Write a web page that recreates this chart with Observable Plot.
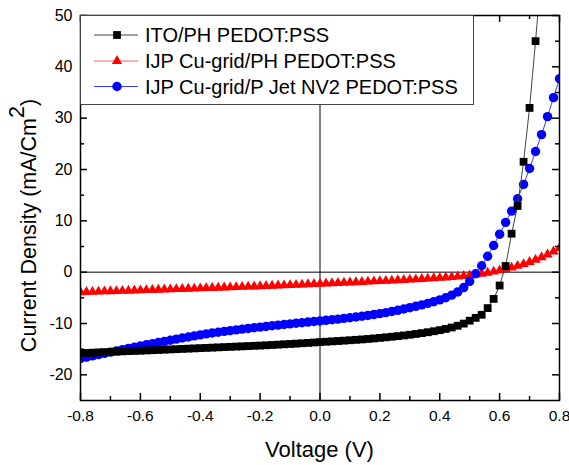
<!DOCTYPE html>
<html>
<head>
<meta charset="utf-8">
<script src="https://cdn.jsdelivr.net/npm/d3@7"></script>
<script src="https://cdn.jsdelivr.net/npm/@observablehq/plot@0.6"></script>
<style>
  html, body { margin: 0; padding: 0; background: #fff; }
  #chart { width: 569px; height: 465px; }
</style>
</head>
<body>
<div id="chart"></div>
<script>
// ---- Data ----
const seriesNames = ["ITO/PH PEDOT:PSS", "IJP Cu-grid/PH PEDOT:PSS", "IJP Cu-grid/P Jet NV2 PEDOT:PSS"];
const seriesColors = ["#000000", "#ff0000", "#0000ff"];
const lineColors = ["#444444", "#ff6060", "#3a3aff"];

const voltage = [
  -0.80,-0.78,-0.76,-0.74,-0.72,-0.70,-0.68,-0.66,-0.64,-0.62,
  -0.60,-0.58,-0.56,-0.54,-0.52,-0.50,-0.48,-0.46,-0.44,-0.42,
  -0.40,-0.38,-0.36,-0.34,-0.32,-0.30,-0.28,-0.26,-0.24,-0.22,
  -0.20,-0.18,-0.16,-0.14,-0.12,-0.10,-0.08,-0.06,-0.04,-0.02,
   0.00,
   0.02, 0.04, 0.06, 0.08, 0.10, 0.12, 0.14, 0.16, 0.18, 0.20,
   0.22, 0.24, 0.26, 0.28, 0.30, 0.32, 0.34, 0.36, 0.38, 0.40,
   0.42, 0.44, 0.46, 0.48, 0.50, 0.52, 0.54, 0.56, 0.58, 0.60,
   0.62, 0.64, 0.66, 0.68, 0.70, 0.72, 0.74, 0.76, 0.78, 0.80
];

// ITO/PH PEDOT:PSS (black squares), -0.80 .. 0.74 V
const itoJ = [
  -15.80,-15.74,-15.69,-15.63,-15.58,-15.53,-15.48,-15.43,-15.38,-15.34,
  -15.30,-15.25,-15.20,-15.15,-15.10,-15.05,-15.00,-14.95,-14.90,-14.85,
  -14.80,-14.75,-14.70,-14.65,-14.60,-14.55,-14.50,-14.45,-14.40,-14.35,
  -14.30,-14.24,-14.18,-14.12,-14.05,-13.99,-13.92,-13.85,-13.78,-13.70,
  -13.62,
  -13.55,-13.48,-13.41,-13.34,-13.26,-13.18,-13.10,-13.01,-12.91,-12.80,
  -12.69,-12.58,-12.46,-12.33,-12.19,-12.04,-11.88,-11.70,-11.51,-11.30,
  -11.06,-10.78,-10.44,-10.02, -9.45, -8.90, -8.30, -7.00, -5.20, -2.60,
    1.20,  7.50, 12.90, 21.50, 32.00, 45.00, 59.00
];

// IJP Cu-grid/PH PEDOT:PSS (red triangles)
const cuPhJ = [
  -3.90,-3.86,-3.83,-3.79,-3.75,-3.72,-3.68,-3.64,-3.61,-3.57,
  -3.53,-3.50,-3.46,-3.42,-3.38,-3.35,-3.31,-3.27,-3.23,-3.19,
  -3.15,-3.11,-3.07,-3.03,-2.99,-2.95,-2.91,-2.87,-2.82,-2.78,
  -2.74,-2.69,-2.65,-2.60,-2.56,-2.51,-2.46,-2.41,-2.36,-2.31,
  -2.26,
  -2.21,-2.16,-2.11,-2.06,-2.01,-1.96,-1.91,-1.85,-1.80,-1.75,
  -1.70,-1.64,-1.58,-1.52,-1.46,-1.40,-1.33,-1.26,-1.19,-1.11,
  -1.03,-0.95,-0.87,-0.75,-0.62,-0.47,-0.30,-0.12, 0.10, 0.36,
   0.62, 0.90, 1.22, 1.58, 1.98, 2.42, 2.90, 3.44, 4.04, 4.70
];

// IJP Cu-grid/P Jet NV2 PEDOT:PSS (blue circles)
const cuJetJ = [
  -16.80,-16.55,-16.30,-16.06,-15.82,-15.58,-15.34,-15.10,-14.86,-14.62,
  -14.38,-14.15,-13.92,-13.70,-13.48,-13.26,-13.04,-12.83,-12.62,-12.41,
  -12.21,-12.03,-11.86,-11.70,-11.54,-11.39,-11.24,-11.10,-10.96,-10.83,
  -10.70,-10.57,-10.44,-10.32,-10.20,-10.08, -9.96, -9.84, -9.72, -9.61,
   -9.50,
   -9.38, -9.26, -9.14, -9.01, -8.88, -8.74, -8.59, -8.43, -8.26, -8.08,
   -7.88, -7.66, -7.43, -7.18, -6.92, -6.65, -6.37, -6.07, -5.75, -5.40,
   -4.98, -4.48, -3.85, -3.00, -1.80, -0.30,  1.25,  3.10,  5.20,  7.40,
    9.70, 11.90, 14.30, 17.10, 20.20, 23.50, 26.80, 30.30, 34.00, 37.70
];

const xDomain = [-0.8, 0.8];
const yDomain = [-25, 50];
const xTicks = [-0.8, -0.6, -0.4, -0.2, 0.0, 0.2, 0.4, 0.6, 0.8];
const xMinorTicks = [-0.7, -0.5, -0.3, -0.1, 0.1, 0.3, 0.5, 0.7];
const yTicks = [-20, -10, 0, 10, 20, 30, 40, 50];
const yMinorTicks = [-15, -5, 5, 15, 25, 35, 45];

const xLabel = "Voltage (V)";
const yLabelMain = "Current Density (mA/Cm";
const yLabelSup = "2";
const yLabelEnd = ")";

// ---- Build tables ----
const itoRows = itoJ.map((j, i) => ({v: voltage[i], j}));
const cuPhRows = cuPhJ.map((j, i) => ({v: voltage[i], j}));
const cuJetRows = cuJetJ.map((j, i) => ({v: voltage[i], j}));

const FONT = '"Liberation Sans", Arial, Helvetica, sans-serif';
const symbols = ["square", "triangle", "circle"];
const radii = [4.4, 3.8, 4.7];

const W = 569, H = 465, ML = 80, MR = 10, MT = 15, MB = 65;
const plotW = W - ML - MR, plotH = H - MT - MB;
// tick lengths in pixels, converted to data units
const MAJOR = 7, MINOR = 4;
const xPerPx = (xDomain[1] - xDomain[0]) / plotW;
const yPerPx = (yDomain[1] - yDomain[0]) / plotH;
const tk = {stroke: "#000", strokeWidth: 1.5};

function xTickRules(ticks, len) {
  return [
    Plot.ruleX(ticks, {x: d => d, y1: yDomain[0], y2: yDomain[0] + len * yPerPx, ...tk}),
    Plot.ruleX(ticks, {x: d => d, y1: yDomain[1], y2: yDomain[1] - len * yPerPx, ...tk})
  ];
}
function yTickRules(ticks, len) {
  return [
    Plot.ruleY(ticks, {y: d => d, x1: xDomain[0], x2: xDomain[0] + len * xPerPx, ...tk}),
    Plot.ruleY(ticks, {y: d => d, x1: xDomain[1], x2: xDomain[1] - len * xPerPx, ...tk})
  ];
}

const chart = Plot.plot({
  width: W,
  height: H,
  marginLeft: ML,
  marginRight: MR,
  marginTop: MT,
  marginBottom: MB,
  style: {fontFamily: FONT, fontSize: "16px", color: "#000", background: "#fff"},
  x: {domain: xDomain},
  y: {domain: yDomain},
  marks: [
    Plot.ruleX([0], {stroke: "#000", strokeWidth: 1}),
    Plot.ruleY([0], {stroke: "#000", strokeWidth: 1}),

    Plot.line(cuPhRows, {x: "v", y: "j", stroke: lineColors[1], strokeWidth: 1, clip: true}),
    Plot.dot(cuPhRows, {x: "v", y: "j", symbol: symbols[1], r: radii[1], fill: seriesColors[1], stroke: "none", clip: true}),

    Plot.line(cuJetRows, {x: "v", y: "j", stroke: lineColors[2], strokeWidth: 1, clip: true}),
    Plot.dot(cuJetRows, {x: "v", y: "j", symbol: symbols[2], r: radii[2], fill: seriesColors[2], stroke: "none", clip: true}),

    Plot.line(itoRows, {x: "v", y: "j", stroke: lineColors[0], strokeWidth: 1, clip: true}),
    Plot.dot(itoRows, {x: "v", y: "j", symbol: symbols[0], r: radii[0], fill: seriesColors[0], stroke: "none", clip: true}),

    // inward ticks on all four sides
    ...xTickRules(xTicks, MAJOR),
    ...xTickRules(xMinorTicks, MINOR),
    ...yTickRules(yTicks, MAJOR),
    ...yTickRules(yMinorTicks, MINOR),

    // tick labels
    Plot.axisX(xTicks, {anchor: "bottom", tickSize: 0, tickPadding: 9, fontSize: 15.5, tickFormat: d => d.toFixed(1), label: null}),
    Plot.axisY(yTicks, {anchor: "left", tickSize: 0, tickPadding: 8, fontSize: 16, tickFormat: d => String(d), label: null}),

    Plot.frame({stroke: "#000", strokeWidth: 1.5})
  ]
});

document.getElementById("chart").appendChild(chart);

// ---- Axis titles & legend (text) ----
const xs = chart.scale("x");
const ys = chart.scale("y");
const plotLeft = Math.min(...xs.range), plotRight = Math.max(...xs.range);
const plotTop = Math.min(...ys.range), plotBottom = Math.max(...ys.range);
const svg = d3.select(chart);

svg.append("text")
  .attr("x", (plotLeft + plotRight) / 2)
  .attr("y", plotBottom + 57)
  .attr("text-anchor", "middle")
  .attr("font-family", FONT)
  .attr("font-size", 22)
  .attr("fill", "#000")
  .text(xLabel);

const yl = svg.append("text")
  .attr("transform", `translate(${plotLeft - 44},${(plotTop + plotBottom) / 2 + 18}) rotate(-90)`)
  .attr("text-anchor", "middle")
  .attr("font-family", FONT)
  .attr("font-size", 21.5)
  .attr("fill", "#000");
yl.append("tspan").text(yLabelMain);
yl.append("tspan").attr("dy", -12).text(yLabelSup);
yl.append("tspan").attr("dy", 12).text(yLabelEnd);

// legend
const lg = svg.append("g").attr("transform", `translate(${plotLeft},${plotTop})`);
lg.append("rect")
  .attr("x", 0.5).attr("y", 0.5)
  .attr("width", 393).attr("height", 89)
  .attr("fill", "#fff").attr("stroke", "#444").attr("stroke-width", 1);
const rowY = [20, 46, 71.5];
const d3Symbols = [d3.symbolSquare, d3.symbolTriangle, d3.symbolCircle];
seriesNames.forEach((name, i) => {
  const g = lg.append("g").attr("transform", `translate(0,${rowY[i]})`);
  g.append("line").attr("x1", 14).attr("x2", 58).attr("y1", 0).attr("y2", 0)
    .attr("stroke", lineColors[i]).attr("stroke-width", 1);
  g.append("path")
    .attr("transform", "translate(37,0)")
    .attr("d", d3.symbol(d3Symbols[i], Math.PI * radii[i] * radii[i])())
    .attr("fill", seriesColors[i]);
  g.append("text")
    .attr("x", 65).attr("y", 7)
    .attr("text-anchor", "start")
    .attr("font-family", FONT).attr("font-size", 20).attr("fill", "#000")
    .text(name);
});
</script>
</body>
</html>
